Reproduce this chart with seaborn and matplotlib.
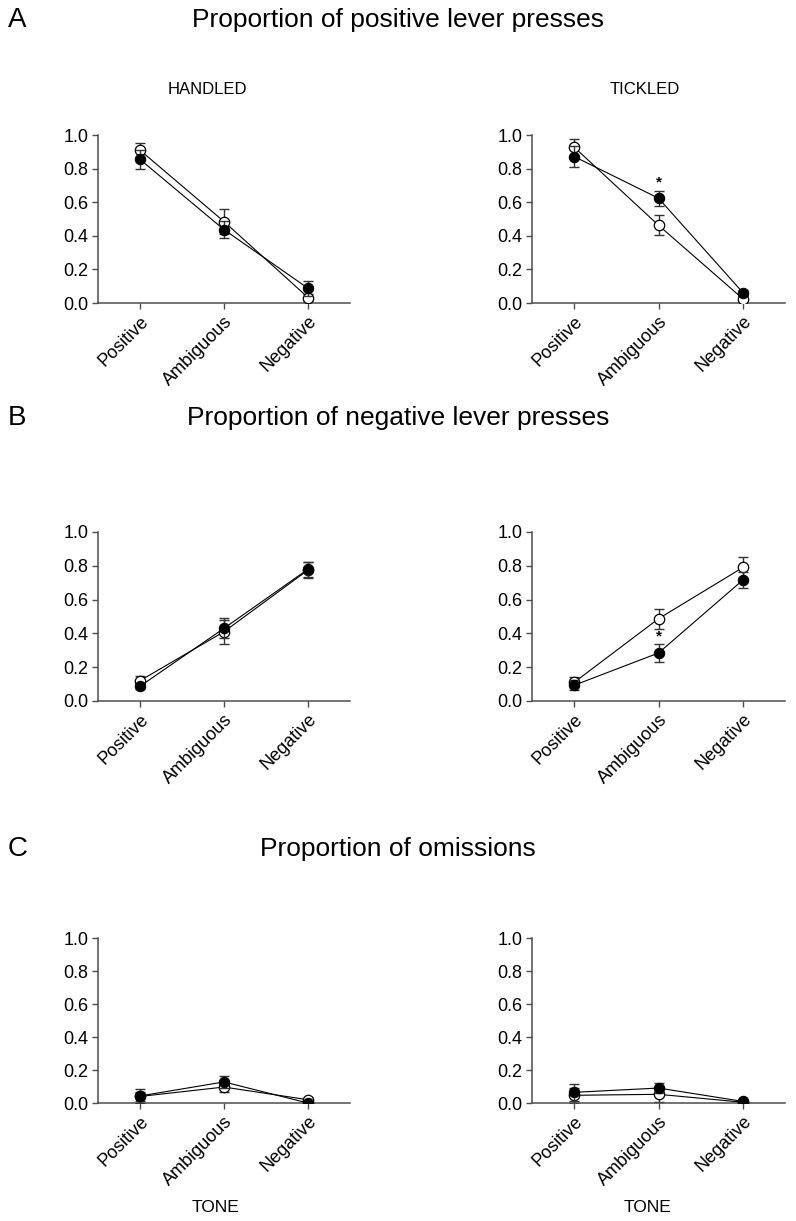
import matplotlib
matplotlib.use("Agg")
import matplotlib.pyplot as plt
import seaborn as sns
import numpy as np
import pandas as pd

tones = ["Positive", "Ambiguous", "Negative"]

# A - proportion of positive lever presses
pos_handled_open = [0.91, 0.485, 0.033]
pos_handled_open_err = [0.045, 0.075, 0.02]
pos_handled_filled = [0.855, 0.437, 0.088]
pos_handled_filled_err = [0.055, 0.05, 0.045]
pos_tickled_open = [0.928, 0.463, 0.025]
pos_tickled_open_err = [0.05, 0.06, 0.015]
pos_tickled_filled = [0.872, 0.624, 0.062]
pos_tickled_filled_err = [0.06, 0.045, 0.015]

# B - proportion of negative lever presses
neg_handled_open = [0.12, 0.41, 0.775]
neg_handled_open_err = [0.03, 0.07, 0.045]
neg_handled_filled = [0.087, 0.43, 0.78]
neg_handled_filled_err = [0.015, 0.06, 0.045]
neg_tickled_open = [0.11, 0.487, 0.79]
neg_tickled_open_err = [0.03, 0.06, 0.06]
neg_tickled_filled = [0.093, 0.284, 0.716]
neg_tickled_filled_err = [0.03, 0.055, 0.05]

# C - proportion of omissions
om_handled_open = [0.04, 0.097, 0.02]
om_handled_open_err = [0.03, 0.03, 0.01]
om_handled_filled = [0.043, 0.128, 0.0]
om_handled_filled_err = [0.045, 0.035, 0.01]
om_tickled_open = [0.047, 0.053, 0.005]
om_tickled_open_err = [0.045, 0.045, 0.01]
om_tickled_filled = [0.065, 0.091, 0.01]
om_tickled_filled_err = [0.05, 0.03, 0.01]

# significance stars (tone index, y)
pos_tickled_star = (1, 0.72)
neg_tickled_star = (1, 0.38)

sns.set_style("ticks")
plt.rcParams['font.family'] = ['Liberation Sans', 'DejaVu Sans']
plt.rcParams['text.color'] = 'black'

fig = plt.figure(figsize=(7.96, 12.21), dpi=100)

col_left = [0.1231, 0.6683]
col_width = [0.3166, 0.318]
row_bottom = [0.7518, 0.4259, 0.0966]
row_height = [0.1376, 0.1384, 0.1351]

panels = [
    [(pos_handled_open, pos_handled_open_err, pos_handled_filled, pos_handled_filled_err, None),
     (pos_tickled_open, pos_tickled_open_err, pos_tickled_filled, pos_tickled_filled_err, pos_tickled_star)],
    [(neg_handled_open, neg_handled_open_err, neg_handled_filled, neg_handled_filled_err, None),
     (neg_tickled_open, neg_tickled_open_err, neg_tickled_filled, neg_tickled_filled_err, neg_tickled_star)],
    [(om_handled_open, om_handled_open_err, om_handled_filled, om_handled_filled_err, None),
     (om_tickled_open, om_tickled_open_err, om_tickled_filled, om_tickled_filled_err, None)],
]

spine_col = "#4d4d4d"
x = np.arange(len(tones))

for r in range(3):
    for c in range(2):
        o, oe, f, fe, star = panels[r][c]
        ax = fig.add_axes([col_left[c], row_bottom[r], col_width[c], row_height[r]])
        df = pd.DataFrame({"tone": x, "open": o, "filled": f})
        # open circles first, filled on top
        ax.errorbar(x, o, yerr=oe, fmt="none", ecolor="#333333", elinewidth=1,
                    capsize=3.3, capthick=1, zorder=2)
        sns.lineplot(data=df, x="tone", y="open", ax=ax, color="black", lw=0.8,
                     marker="o", markersize=7.5, markerfacecolor="white",
                     markeredgecolor="black", markeredgewidth=0.9, zorder=3)
        ax.errorbar(x, f, yerr=fe, fmt="none", ecolor="#333333", elinewidth=1,
                    capsize=3.3, capthick=1, zorder=4)
        sns.lineplot(data=df, x="tone", y="filled", ax=ax, color="black", lw=0.8,
                     marker="o", markersize=7.5, markerfacecolor="black",
                     markeredgecolor="black", zorder=5)
        if star is not None:
            ax.text(star[0], star[1], "*", ha="center", va="center", fontsize=11,
                    fontweight="bold")
        ax.set_xlim(-0.5, 2.5)
        ax.set_ylim(0, 1.0)
        ax.set_yticks([0, 0.2, 0.4, 0.6, 0.8, 1.0])
        ax.set_yticklabels(["0.0", "0.2", "0.4", "0.6", "0.8", "1.0"], fontsize=13)
        ax.set_xticks(x)
        ax.set_xticklabels(tones, rotation=45, ha="right", rotation_mode="anchor",
                           fontsize=13)
        ax.set_xlabel("")
        ax.set_ylabel("")
        sns.despine(ax=ax)
        for s in ["left", "bottom"]:
            ax.spines[s].set_color(spine_col)
            ax.spines[s].set_linewidth(1.1)
        ax.tick_params(colors=spine_col, labelcolor="black", length=4, width=1, pad=3)

titles = ["Proportion of positive lever presses",
          "Proportion of negative lever presses",
          "Proportion of omissions"]
letters = ["A", "B", "C"]
title_y = [1 - 20 / 1221, 1 - 418 / 1221, 1 - 849 / 1221]
for t, l, y in zip(titles, letters, title_y):
    fig.text(0.01, y, l, fontsize=20, va="center", ha="left")
    fig.text(0.5, y, t, fontsize=19, va="center", ha="center")

fig.text(207 / 796, 1 - 90 / 1221, "HANDLED", fontsize=12, ha="center", va="center")
fig.text(645 / 796, 1 - 90 / 1221, "TICKLED", fontsize=12, ha="center", va="center")
fig.text(216 / 796, 1 - 1207 / 1221, "TONE", fontsize=12.5, ha="center", va="center")
fig.text(648 / 796, 1 - 1207 / 1221, "TONE", fontsize=12.5, ha="center", va="center")

fig.savefig("out.png", dpi=100)
